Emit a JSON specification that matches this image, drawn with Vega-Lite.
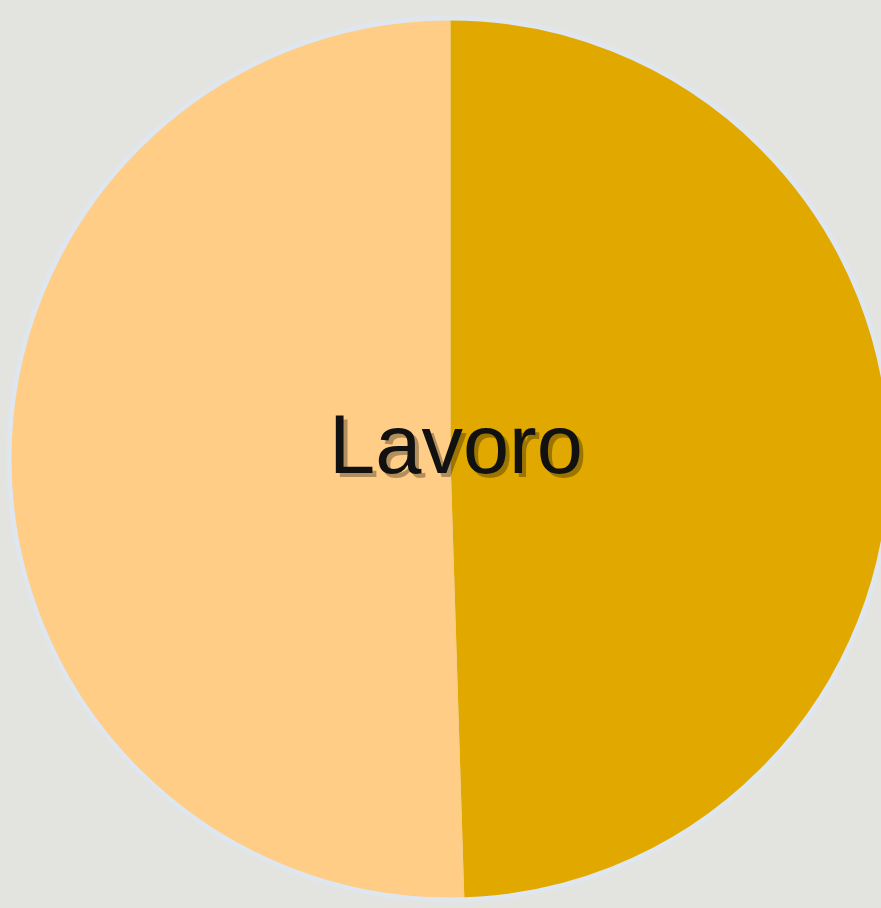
{
  "$schema": "https://vega.github.io/schema/vega-lite/v6.json",
  "width": 881,
  "height": 908,
  "autosize": {"type": "fit", "contains": "padding"},
  "padding": {"left": 19, "top": 10, "right": 0, "bottom": 0},
  "background": "#e3e3df",
  "view": {"stroke": null},
  "layer": [
    {
      "data": {"values": [
        {"category": "Lavoro", "value": 49.5},
        {"category": "Altro", "value": 50.5}
      ]},
      "mark": {"type": "arc", "radius": 440, "stroke": "#f3cf8a", "strokeWidth": 1},
      "encoding": {
        "theta": {"field": "value", "type": "quantitative", "stack": true},
        "order": {"field": "category", "sort": "descending"},
        "color": {
          "field": "category",
          "type": "nominal",
          "scale": {"domain": ["Lavoro", "Altro"], "range": ["#e1a900", "#ffcd85"]},
          "legend": null
        }
      }
    },
    {
      "data": {"values": [{"ring": 1}]},
      "mark": {"type": "point", "shape": "circle", "size": 777924, "filled": false, "stroke": "#dfe6ee", "strokeWidth": 5, "opacity": 1},
      "encoding": {}
    },
    {
      "data": {"values": [{"label": "Lavoro"}]},
      "mark": {"type": "text", "font": "Liberation Sans", "fontSize": 83, "baseline": "alphabetic", "align": "center", "dx": 10, "dy": 18, "color": "#000000", "opacity": 0.3},
      "encoding": {"text": {"field": "label", "type": "nominal"}}
    },
    {
      "data": {"values": [{"label": "Lavoro"}]},
      "mark": {"type": "text", "font": "Liberation Sans", "fontSize": 83, "baseline": "alphabetic", "align": "center", "dx": 6, "dy": 14, "color": "#111111"},
      "encoding": {"text": {"field": "label", "type": "nominal"}}
    }
  ]
}
